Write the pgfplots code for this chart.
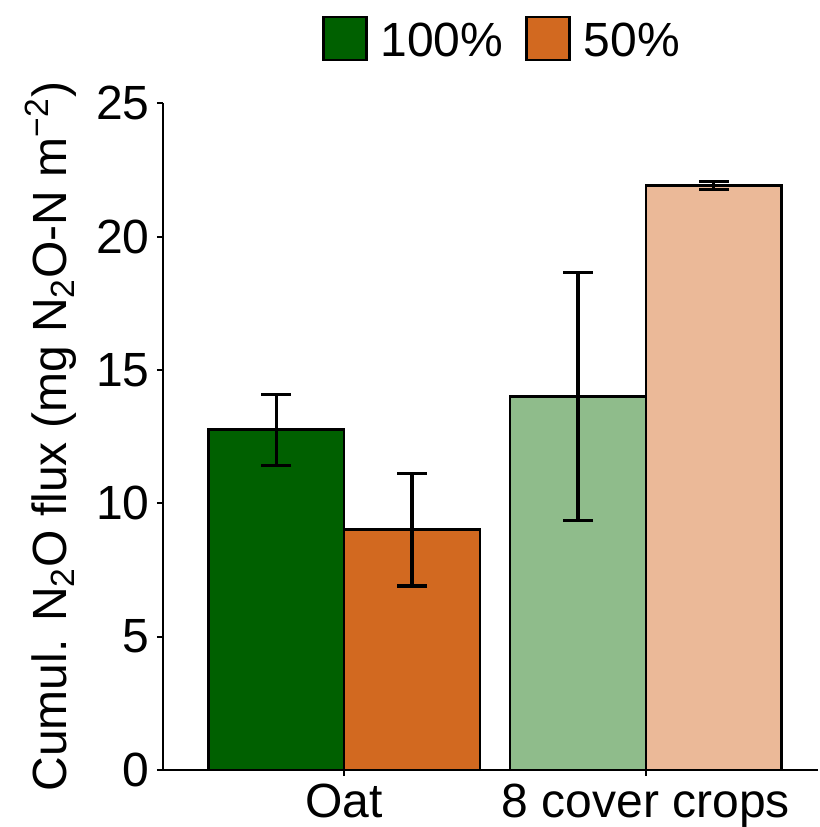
\documentclass[border=0pt]{standalone}
\usepackage{pgfplots}
\pgfplotsset{compat=1.18}
\usepackage{fontspec}
\setmainfont{Liberation Sans}
\definecolor{dg}{RGB}{0,96,0}
\definecolor{orng}{RGB}{210,105,32}
\definecolor{lg}{RGB}{143,188,139}
\definecolor{lo}{RGB}{235,185,152}
\begin{document}
\fontsize{24}{29}\selectfont
\begin{tikzpicture}
\begin{axis}[
  at={(0,0)}, anchor=south west,
  width=327.5pt, height=333.3pt, scale only axis,
  xmin=-0.6, xmax=1.57, ymin=0, ymax=25,
  axis lines=left, axis line style={-, line width=1pt, black},
  xtick={0,1}, xticklabels={Oat, 8 cover crops},
  ytick={0,5,10,15,20,25},
  tick align=outside, major tick length=3pt, tick style={black, line width=1pt},
  /pgf/number format/assume math mode=true,
  ticklabel style={font=\fontsize{24}{29}\selectfont, text=black},
  yticklabel style={inner sep=0pt, anchor=east, xshift=-3.5pt},
  xticklabel style={inner sep=0pt, anchor=north, yshift=-3.8pt},
  ylabel={Cumul. N\textsubscript{2}O flux (mg N\textsubscript{2}O-N m\textsuperscript{−2})},
  ylabel style={at={(axis description cs:-0.1466,0.5)}, anchor=base, rotate=0, font=\fontsize{24}{29}\selectfont},
  legend style={at={(axis description cs:0.516,1.095)}, anchor=center, draw=none, fill=none,
    legend columns=2, font=\fontsize{24}{29}\selectfont,
    nodes={inner sep=0pt},
    /tikz/every odd column/.append style={column sep=6.5pt},
    /tikz/every even column/.append style={column sep=11pt}},
  legend image code/.code={\draw[#1, line width=1.2pt] (0pt,-8.3pt) rectangle (21.5pt,13.2pt);},
  error bars/error mark=|,
  error bars/error bar style={line width=1.6pt, black},
  error bars/error mark options={line width=1.6pt, black, mark size=7.5pt},
]
\addplot[ybar, bar width=0.45, bar shift=0pt, fill=dg, draw=black, line width=1.3pt,
  error bars/.cd, y dir=both, y explicit]
  coordinates {(-0.225,12.76) +- (0,1.33)};
\addlegendentry{100\%}
\addplot[ybar, bar width=0.45, bar shift=0pt, fill=orng, draw=black, line width=1.3pt,
  error bars/.cd, y dir=both, y explicit]
  coordinates {(0.225,9.01) +- (0,2.11)};
\addlegendentry{50\%}
\addplot[ybar, bar width=0.45, bar shift=0pt, fill=lg, draw=black, line width=1.3pt, forget plot,
  error bars/.cd, y dir=both, y explicit]
  coordinates {(0.775,14.01) +- (0,4.66)};
\addplot[ybar, bar width=0.45, bar shift=0pt, fill=lo, draw=black, line width=1.3pt, forget plot,
  error bars/.cd, y dir=both, y explicit]
  coordinates {(1.225,21.92) +- (0,0.15)};
\end{axis}
\pgfresetboundingbox
\useasboundingbox (-81.5pt,-28.5pt) rectangle (328.5pt,385pt);
\end{tikzpicture}
\end{document}
